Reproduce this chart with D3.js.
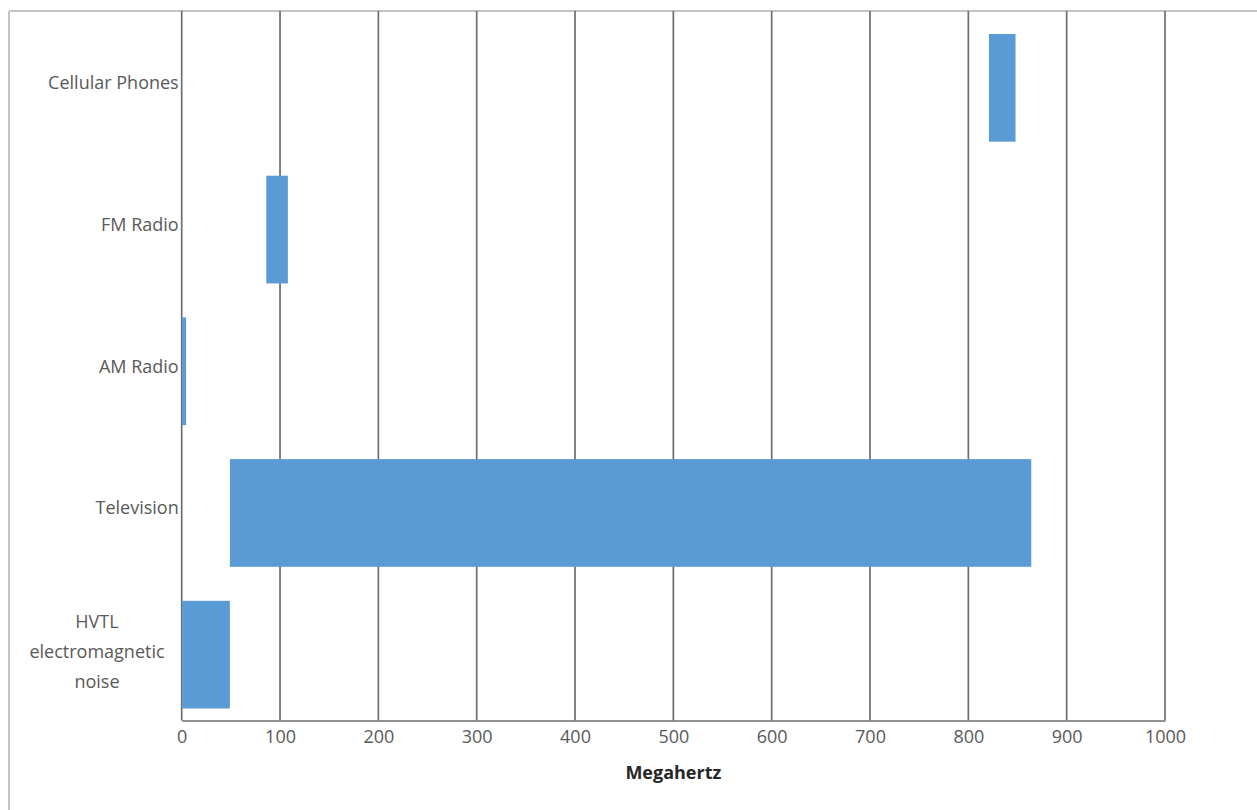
<!DOCTYPE html>
<html>
<head>
<meta charset="utf-8">
<script src="https://cdn.jsdelivr.net/npm/d3@7"></script>
<style>
  html, body { margin: 0; padding: 0; background: #ffffff; }
  svg { display: block; }
</style>
</head>
<body>
<svg id="chart" width="1257" height="810"></svg>
<script>
const categories = ["Cellular Phones", "FM Radio", "AM Radio", "Television", "HVTL electromagnetic noise"];
const labelLines = [["Cellular Phones"], ["FM Radio"], ["AM Radio"], ["Television"], ["HVTL", "electromagnetic", "noise"]];
const rangeStart = [821, 86, 0.5, 49, 0.5];
const rangeEnd = [848, 108, 4.5, 864, 49];
const xTicks = [0, 100, 200, 300, 400, 500, 600, 700, 800, 900, 1000];
const xTitle = "Megahertz";

(function () {
const svg = d3.select("#chart");
const W = 1257, H = 810;
const mLeft = 181.7, mRight = 1165, mTop = 12, mBottom = 720.5;
const barShift = 5;
const font = "'Open Sans', 'Noto Sans', sans-serif";

// outer frame (top + left edges visible)
svg.append("line").attr("x1", 9).attr("x2", W).attr("y1", 11).attr("y2", 11)
  .attr("stroke", "#c4c4c4").attr("stroke-width", 2);
svg.append("line").attr("x1", 9).attr("x2", 9).attr("y1", 11).attr("y2", H)
  .attr("stroke", "#c4c4c4").attr("stroke-width", 2);

const x = d3.scaleLinear().domain([0, 1000]).range([mLeft, mRight]);
const y = d3.scaleBand().domain(categories).range([mTop, mBottom]).paddingInner(0.24).paddingOuter(0.12);

// gridlines
svg.append("g").selectAll("line").data(xTicks).join("line")
  .attr("x1", d => x(d)).attr("x2", d => x(d))
  .attr("y1", 11).attr("y2", mBottom)
  .attr("stroke", "#6e6e6e").attr("stroke-width", 1.7);

// x axis
const xAxis = d3.axisBottom(x).tickValues(xTicks).tickSize(0).tickPadding(10).tickFormat(d3.format("d"));
const gx = svg.append("g").attr("transform", `translate(0,${mBottom})`).call(xAxis);
gx.select(".domain").attr("stroke", "#6e6e6e").attr("stroke-width", 1.7);
gx.selectAll("text").attr("font-family", font).attr("font-size", 18).attr("fill", "#595959");

// bars
svg.append("g").attr("transform", `translate(0,${barShift})`).selectAll("rect").data(categories).join("rect")
  .attr("x", (d, i) => x(rangeStart[i]))
  .attr("width", (d, i) => x(rangeEnd[i]) - x(rangeStart[i]))
  .attr("y", d => y(d))
  .attr("height", y.bandwidth())
  .attr("fill", "#5b9bd5");

// category labels
const lab = svg.append("g");
categories.forEach((c, i) => {
  const lines = labelLines[i];
  const cy = y(c) + y.bandwidth() / 2;
  const lh = 30;
  if (lines.length === 1) {
    lab.append("text").attr("x", mLeft - 3).attr("y", cy).attr("dy", "0.35em")
      .attr("text-anchor", "end").attr("font-family", font).attr("font-size", 18)
      .attr("fill", "#595959").text(lines[0]);
  } else {
    const t = lab.append("text").attr("text-anchor", "middle").attr("font-family", font)
      .attr("font-size", 18).attr("fill", "#595959");
    lines.forEach((ln, j) => {
      t.append("tspan").attr("x", 97).attr("y", cy + 2 + (j - (lines.length - 1) / 2) * lh)
        .attr("dy", "0.35em").text(ln);
    });
  }
});

// axis title
svg.append("text").attr("x", (mLeft + mRight) / 2).attr("y", 773).attr("dy", "0.35em")
  .attr("text-anchor", "middle").attr("font-family", font).attr("font-size", 18)
  .attr("font-weight", "bold").attr("fill", "#262626").text(xTitle);
})();
</script>
</body>
</html>
